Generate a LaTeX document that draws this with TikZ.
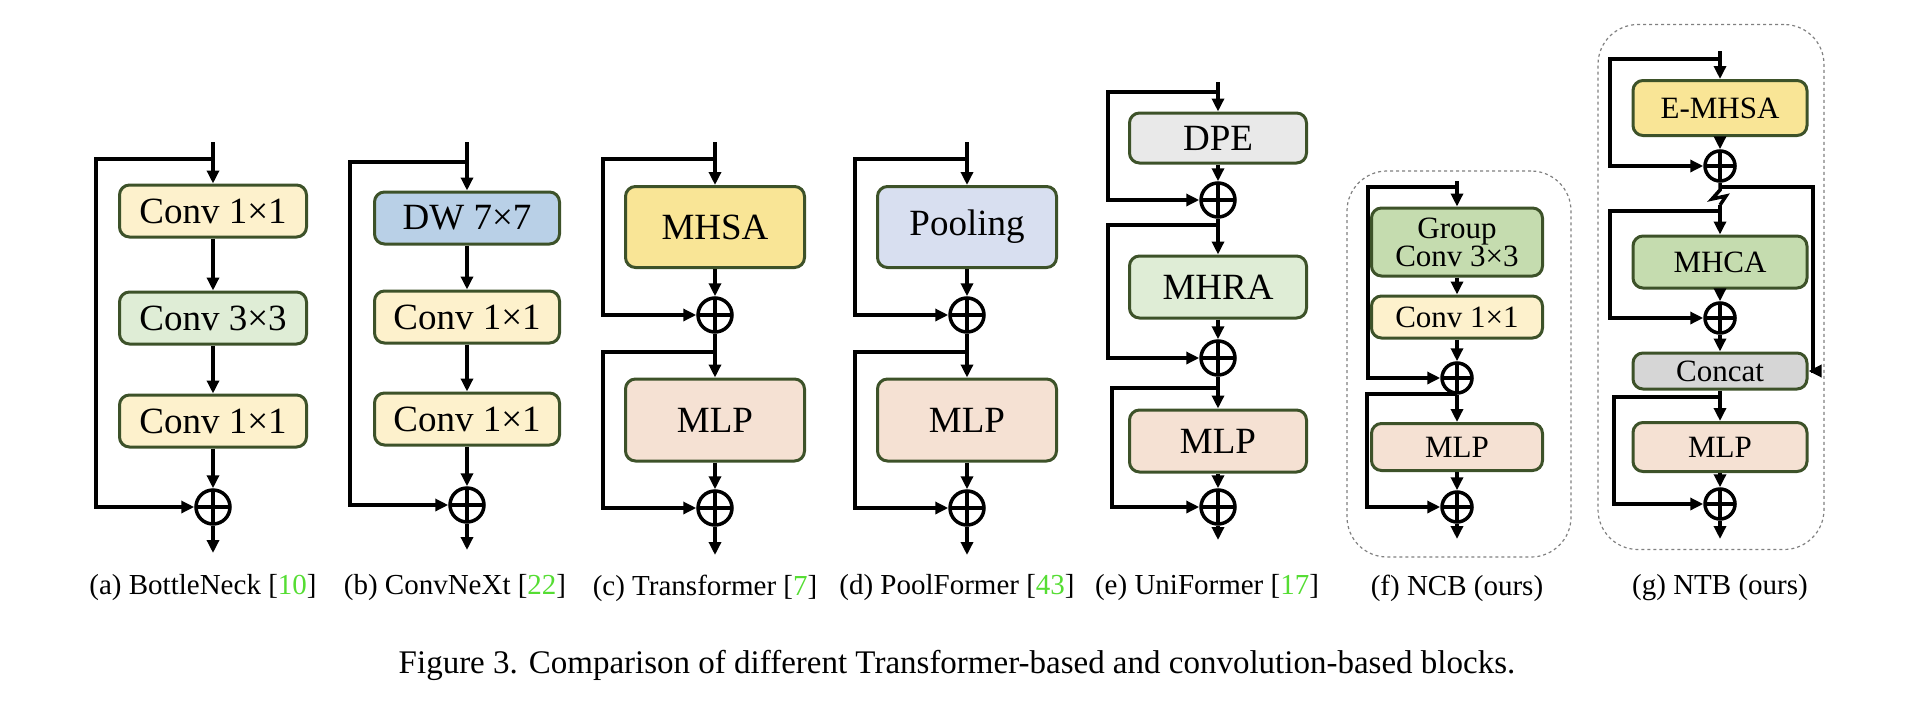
\documentclass[tikz,border=0pt]{standalone}
\usepackage{fontspec}
\setmainfont{Liberation Serif}
\usetikzlibrary{arrows.meta}
\definecolor{bord}{HTML}{3D5229}
\definecolor{cyel}{HTML}{FDF1CC}
\definecolor{cgrn}{HTML}{DFEDD6}
\definecolor{cblu}{HTML}{B9D0E7}
\definecolor{cmhsa}{HTML}{F9E596}
\definecolor{cpool}{HTML}{D8DFF0}
\definecolor{cmlp}{HTML}{F5E1D3}
\definecolor{cdpe}{HTML}{E9E9E9}
\definecolor{cgc}{HTML}{C5DCAF}
\definecolor{ccat}{HTML}{D6D6D6}
\definecolor{cite}{HTML}{55DD33}
\tikzset{
 x=1pt,y=-1pt,
 blk/.style={draw=bord,line width=3pt,rounded corners=10pt,inner sep=0pt,align=center},
 big/.style={font=\fontsize{37}{37}\selectfont},
 sml/.style={font=\fontsize{31}{27}\selectfont},
 addn/.style={circle,draw,line width=3.5pt,minimum size=34pt,inner sep=0pt,
   path picture={\draw[line width=3.5pt] (path picture bounding box.north)--(path picture bounding box.south)
   (path picture bounding box.west)--(path picture bounding box.east);}},
 ar/.style={line width=3.5pt,-{Triangle[length=13pt,width=12pt]}},
 ln/.style={line width=3.5pt},
 subcap/.style={font=\fontsize{29}{29}\selectfont},
 frame/.style={draw=gray,dashed,line width=1.2pt,rounded corners=40pt},
}
\begin{document}
\begin{tikzpicture}
\useasboundingbox (0,0) rectangle (1920,718);
% (a)
\coordinate (at) at (213,142);
\node[blk,big,fill=cyel,minimum width=187pt,minimum height=52pt] (a1) at (213,211) {Conv 1×1};
\node[blk,big,fill=cgrn,minimum width=187pt,minimum height=52pt] (a2) at (213,318) {Conv 3×3};
\node[blk,big,fill=cyel,minimum width=187pt,minimum height=52pt] (a3) at (213,421) {Conv 1×1};
\node[addn] (ap) at (213,507) {};
\coordinate (ae) at (213,553);
\coordinate (as) at (213,159);
\draw[ar] (at)--(a1); \draw[ar] (a1)--(a2); \draw[ar] (a2)--(a3); \draw[ar] (a3)--(ap); \draw[ar] (ap)--(ae);
\draw[ar] (as)--(96,159)--(96,507)--(ap);
\node[subcap] (ac) at (203,588) {(a) BottleNeck [\textcolor{cite}{10}]};
% (b)
\coordinate (bt) at (467,142);
\node[blk,big,fill=cblu,minimum width=185pt,minimum height=52pt] (b1) at (467,218) {DW 7×7};
\node[blk,big,fill=cyel,minimum width=185pt,minimum height=52pt] (b2) at (467,317) {Conv 1×1};
\node[blk,big,fill=cyel,minimum width=185pt,minimum height=52pt] (b3) at (467,419) {Conv 1×1};
\node[addn] (bp) at (467,505) {};
\coordinate (be) at (467,550);
\coordinate (bs) at (467,162);
\draw[ar] (bt)--(b1); \draw[ar] (b1)--(b2); \draw[ar] (b2)--(b3); \draw[ar] (b3)--(bp); \draw[ar] (bp)--(be);
\draw[ar] (bs)--(350,162)--(350,505)--(bp);
\node[subcap] (bc) at (455,588) {(b) ConvNeXt [\textcolor{cite}{22}]};
% (c)
\coordinate (ct) at (715,142);
\node[blk,big,fill=cmhsa,minimum width=179pt,minimum height=81pt] (c1) at (715,227) {MHSA};
\node[addn] (cp1) at (715,315) {};
\node[blk,big,fill=cmlp,minimum width=179pt,minimum height=82pt] (c2) at (715,420) {MLP};
\node[addn] (cp2) at (715,508) {};
\coordinate (ce) at (715,555);
\coordinate (cs1) at (715,159); \coordinate (cs2) at (715,352);
\draw[ar] (ct)--(c1); \draw[ar] (c1)--(cp1); \draw[ar] (cp1)--(c2); \draw[ar] (c2)--(cp2); \draw[ar] (cp2)--(ce);
\draw[ar] (cs1)--(603,159)--(603,315)--(cp1);
\draw[ar] (cs2)--(603,352)--(603,508)--(cp2);
\node[subcap] (cc) at (705,588) {(c) Transformer [\textcolor{cite}{7}]};
% (d)
\coordinate (dt) at (967,142);
\node[blk,big,fill=cpool,minimum width=179pt,minimum height=81pt] (d1) at (967,227) {Pooling};
\node[addn] (dp1) at (967,315) {};
\node[blk,big,fill=cmlp,minimum width=179pt,minimum height=82pt] (d2) at (967,420) {MLP};
\node[addn] (dp2) at (967,508) {};
\coordinate (de) at (967,555);
\coordinate (ds1) at (967,159); \coordinate (ds2) at (967,352);
\draw[ar] (dt)--(d1); \draw[ar] (d1)--(dp1); \draw[ar] (dp1)--(d2); \draw[ar] (d2)--(dp2); \draw[ar] (dp2)--(de);
\draw[ar] (ds1)--(855,159)--(855,315)--(dp1);
\draw[ar] (ds2)--(855,352)--(855,508)--(dp2);
\node[subcap] (dc) at (957,588) {(d) PoolFormer [\textcolor{cite}{43}]};
% (e)
\coordinate (et) at (1218,82);
\node[blk,big,fill=cdpe,minimum width=177pt,minimum height=50pt] (e1) at (1218,138) {DPE};
\node[addn] (ep1) at (1218,200) {};
\node[blk,big,fill=cgrn,minimum width=177pt,minimum height=62pt] (e2) at (1218,287) {MHRA};
\node[addn] (ep2) at (1218,358) {};
\node[blk,big,fill=cmlp,minimum width=177pt,minimum height=62pt] (e3) at (1218,441) {MLP};
\node[addn] (ep3) at (1218,507) {};
\coordinate (ee) at (1218,540);
\coordinate (es1) at (1218,92); \coordinate (es2) at (1218,225); \coordinate (es3) at (1218,388);
\draw[ar] (et)--(e1); \draw[ar] (e1)--(ep1); \draw[ar] (ep1)--(e2); \draw[ar] (e2)--(ep2); \draw[ar] (ep2)--(e3); \draw[ar] (e3)--(ep3); \draw[ar] (ep3)--(ee);
\draw[ar] (es1)--(1108,92)--(1108,200)--(ep1);
\draw[ar] (es2)--(1108,225)--(1108,358)--(ep2);
\draw[ar] (es3)--(1112,388)--(1112,507)--(ep3);
\node[subcap] (ec) at (1207,588) {(e) UniFormer [\textcolor{cite}{17}]};
% (f)
\node[frame,minimum width=224pt,minimum height=386pt] (ff) at (1459,364) {};
\coordinate (ft) at (1457,181);
\node[blk,sml,fill=cgc,minimum width=171pt,minimum height=68pt] (f1) at (1457,242) {Group\\Conv 3×3};
\node[blk,sml,fill=cyel,minimum width=171pt,minimum height=42pt] (f2) at (1457,317) {Conv 1×1};
\node[addn,minimum size=30pt] (fp1) at (1457,378) {};
\node[blk,sml,fill=cmlp,minimum width=171pt,minimum height=47pt] (f3) at (1457,447) {MLP};
\node[addn,minimum size=30pt] (fp2) at (1457,507) {};
\coordinate (fe) at (1457,539);
\coordinate (fs1) at (1457,187); \coordinate (fs2) at (1457,394);
\draw[ar] (ft)--(f1); \draw[ar] (f1)--(f2); \draw[ar] (f2)--(fp1); \draw[ar] (fp1)--(f3); \draw[ar] (f3)--(fp2); \draw[ar] (fp2)--(fe);
\draw[ar] (fs1)--(1368,187)--(1368,378)--(fp1);
\draw[ar] (fs2)--(1367,394)--(1367,507)--(fp2);
\node[subcap] (fc) at (1457,588) {(f) NCB (ours)};
% (g)
\node[frame,minimum width=226pt,minimum height=525pt] (gf) at (1711,287) {};
\coordinate (gt) at (1720,51);
\node[blk,sml,fill=cmhsa,minimum width=174pt,minimum height=55pt] (g1) at (1720,108) {E-MHSA};
\node[addn,minimum size=30pt] (gp1) at (1720,166) {};
\node[blk,sml,fill=cgc,minimum width=174pt,minimum height=52pt] (g2) at (1720,262) {MHCA};
\node[addn,minimum size=30pt] (gp2) at (1720,318) {};
\node[blk,sml,fill=ccat,minimum width=174pt,minimum height=36pt] (g3) at (1720,371) {Concat};
\node[blk,sml,fill=cmlp,minimum width=174pt,minimum height=49pt] (g4) at (1720,447) {MLP};
\node[addn,minimum size=30pt] (gp3) at (1720,504) {};
\coordinate (ge) at (1720,539);
\coordinate (gs1) at (1720,59); \coordinate (gb) at (1720,187);
\coordinate (gz) at (1720,205); \coordinate (gs2) at (1720,211); \coordinate (gs3) at (1720,397);
\draw[ar] (gt)--(g1); \draw[ar] (g1)--(gp1);
\draw[ln] (gp1)--(gb)--(1720,190)--(1712,199)--(1726,196)--(gz);
\draw[ar] (gz)--(g2); \draw[ar] (g2)--(gp2); \draw[ar] (gp2)--(g3); \draw[ar] (g3)--(g4); \draw[ar] (g4)--(gp3); \draw[ar] (gp3)--(ge);
\draw[ar] (gs1)--(1610,59)--(1610,166)--(gp1);
\draw[ar] (gs2)--(1610,211)--(1610,318)--(gp2);
\draw[ar] (gs3)--(1614,397)--(1614,504)--(gp3);
\draw[ar] (gb)--(1813,187)--(1813,371)--(g3.east);
\node[subcap] (gc) at (1720,588) {(g) NTB (ours)};
% caption
\node[font=\fontsize{33}{33}\selectfont] (fig) at (957,665) {Figure 3. Comparison of different Transformer-based and convolution-based blocks.};
\end{tikzpicture}
\end{document}
